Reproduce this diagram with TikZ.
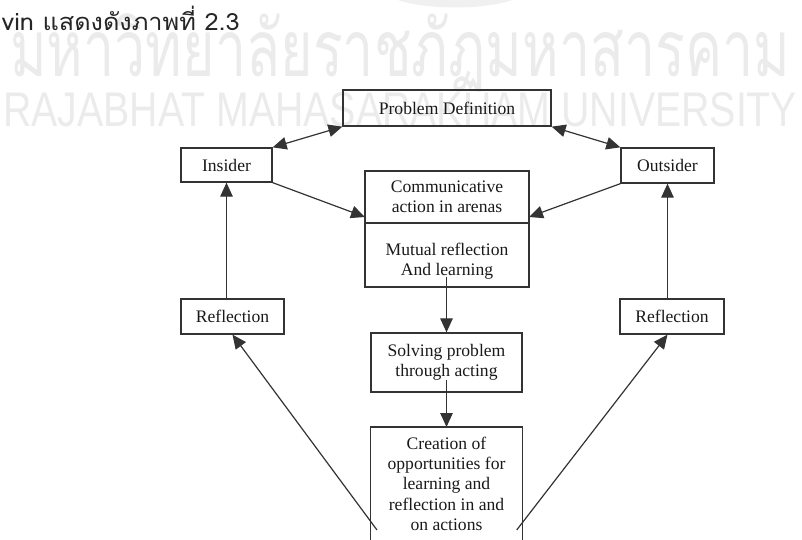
\documentclass[tikz,border=0pt]{standalone}
\usepackage{graphicx}
\usepackage{fontspec}
\setmainfont{Liberation Serif}
\newfontfamily\thaifont[Script=Thai]{Loma}
\newfontfamily\wmfont{Liberation Sans}
\usetikzlibrary{arrows.meta}
\begin{document}
\begin{tikzpicture}[x=1pt,y=-1pt,
  box/.style={draw=black!80, line width=1.3pt, inner sep=0pt},
  txt/.style={font=\fontsize{17.6}{20.4}\selectfont, align=center, text=black!90, inner sep=0pt},
  arr/.style={draw=black!80, line width=1.2pt, -{Triangle[length=14pt,width=12.5pt]}},
  darr/.style={draw=black!80, line width=1.2pt, {Triangle[length=14pt,width=12.5pt]}-{Triangle[length=14pt,width=12.5pt]}},
  wm/.style={anchor=base west, inner sep=0pt, text=black!8}
]
\useasboundingbox (0,0) rectangle (802,540);

% watermark
\fill[black!6] (398,0) .. controls (425,10) and (485,10) .. (512,0) -- cycle;
\node[wm] (wmth) at (10,77) {\resizebox{780pt}{44pt}{\thaifont\smash{มหาวิทยาลัยราชภัฏมหาสารคาม}\vphantom{ม}}};
\node[wm] (wmen) at (3,126.5) {\resizebox{794pt}{34pt}{\wmfont RAJABHAT MAHASARAKHAM UNIVERSITY}};

% caption fragment
\node[anchor=base east, inner sep=0pt, text=black!85] (cap) at (240,31) {\scalebox{1.1}[1.03]{\thaifont\fontsize{23}{26}\selectfont vin แสดงดังภาพที่ 2.3}};

% boxes
\node[box, txt, minimum width=208pt, minimum height=36pt] (prob) at (447,108) {Problem Definition};
\node[box, txt, minimum width=91pt, minimum height=34pt] (ins) at (226.5,165) {Insider};
\node[box, txt, minimum width=93pt, minimum height=35pt] (out) at (667.5,165.5) {Outsider};
\node[box, txt, minimum width=164pt, minimum height=52pt] (comm) at (447,197) {Communicative\\action in arenas};
\node[box, minimum width=164pt, minimum height=64pt] (mut) at (447,255) {};
\node[txt] (mutT) at (447,261) {Mutual reflection\\And learning};
\node[box, txt, minimum width=103pt, minimum height=35pt] (refL) at (232.5,316.5) {Reflection};
\node[box, txt, minimum width=104pt, minimum height=35pt] (refR) at (672,316.5) {Reflection};
\node[box, txt, minimum width=151pt, minimum height=59pt] (solv) at (446.5,362.5) {Solving problem\\through acting};
\node[inner sep=0pt, minimum width=151pt, minimum height=116pt, anchor=north] (cre) at (446.5,427) {};
\draw[draw=black!80, line width=1.3pt] (cre.south west) -- (cre.north west) -- (cre.north east) -- (cre.south east);
\node[txt] (creT) at (446.5,483.8) {Creation of\\opportunities for\\learning and\\reflection in and\\on actions};

% coordinates
\coordinate (cwL) at (365,217);
\coordinate (cwR) at (529,217);
\coordinate (mS) at (446.5,277);
\coordinate (sS) at (446.5,380);
\coordinate (cL) at (377,530);
\coordinate (cR) at (516.7,530);

% connectors
\draw[darr] (prob.south west) -- (ins.north east);
\draw[darr] (prob.south east) -- (out.north west);
\draw[arr] (ins.south east) -- (cwL);
\draw[arr] (out.south west) -- (cwR);
\draw[arr] (refL.north -| ins.south) -- (ins.south);
\draw[arr] (refR.north -| out.south) -- (out.south);
\draw[arr] (mS) -- (solv.north);
\draw[arr] (sS) -- (cre.north);
\draw[arr] (cL) -- (refL.south);
\draw[arr] (cR) -- (refR.south -| out.south);
\end{tikzpicture}
\end{document}
